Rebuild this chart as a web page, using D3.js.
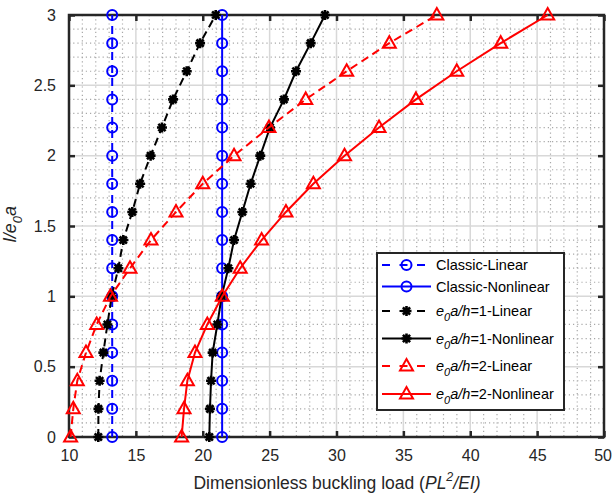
<!DOCTYPE html>
<html><head><meta charset="utf-8">
<script src="https://cdn.jsdelivr.net/npm/d3@7"></script>
<style>body{margin:0;background:#fff;} svg{display:block;font-family:"Liberation Sans",Arial,sans-serif;}</style>
</head><body>
<svg id="chart" width="612" height="495"></svg>
<script>
const yValues = [0,0.2,0.4,0.6,0.8,1.0,1.2,1.4,1.6,1.8,2.0,2.2,2.4,2.6,2.8,3.0];
const classicLinear    = [13.23,13.23,13.23,13.23,13.23,13.23,13.23,13.23,13.23,13.23,13.23,13.23,13.23,13.23,13.23,13.23];
const classicNonlinear = [21.45,21.45,21.45,21.45,21.45,21.45,21.45,21.45,21.45,21.45,21.45,21.45,21.45,21.45,21.45,21.45];
const e1Linear    = [12.19,12.2,12.29,12.57,12.87,13.19,13.69,14.06,14.73,15.31,16.1,16.95,17.78,18.8,19.8,20.97];
const e1Nonlinear = [20.49,20.54,20.62,20.74,21.09,21.41,21.91,22.34,22.96,23.58,24.3,25.03,26.07,26.97,28.07,29.14];
const e2Linear    = [10.12,10.32,10.62,11.27,12.07,13.1,14.56,16.13,18.0,20.0,22.34,24.95,27.7,30.76,33.95,37.5];
const e2Nonlinear = [18.42,18.6,18.85,19.42,20.34,21.46,22.8,24.4,26.22,28.27,30.6,33.18,35.94,38.99,42.28,45.79];
const xTicks = [10,15,20,25,30,35,40,45,50];
const yTicks = [0,0.5,1,1.5,2,2.5,3];
const seriesNames = ["Classic-Linear","Classic-Nonlinear","1-Linear","1-Nonlinear","2-Linear","2-Nonlinear"];

const series = [
  {name:seriesNames[0], x:classicLinear, color:"#0000ff", dash:true, marker:"circle"},
  {name:seriesNames[1], x:classicNonlinear, color:"#0000ff", dash:false, marker:"circle"},
  {name:seriesNames[2], x:e1Linear, color:"#000000", dash:true, marker:"star", e:1},
  {name:seriesNames[3], x:e1Nonlinear, color:"#000000", dash:false, marker:"star", e:1},
  {name:seriesNames[4], x:e2Linear, color:"#ff0000", dash:true, marker:"tri", e:2},
  {name:seriesNames[5], x:e2Nonlinear, color:"#ff0000", dash:false, marker:"tri", e:2}
];

const L=69, R=604, T=15, B=437;
const svg = d3.select("#chart");
const x = d3.scaleLinear().domain([10,50]).range([L,R]);
const y = d3.scaleLinear().domain([0,3]).range([B,T]);

// minor grid
const g = svg.append("g");
const xMinor = d3.range(11,50,1).filter(v=>v%5!==0);
const yMinor = d3.range(1,30,1).map(v=>v/10).filter(v=>Math.abs(v*2-Math.round(v*2))>1e-6);
g.selectAll(".xm").data(xMinor).enter().append("line")
  .attr("x1",d=>x(d)).attr("x2",d=>x(d)).attr("y1",T).attr("y2",B)
  .attr("stroke","#a8a8a8").attr("stroke-width",1.2).attr("stroke-dasharray","1.2,3");
g.selectAll(".ym").data(yMinor).enter().append("line")
  .attr("y1",d=>y(d)).attr("y2",d=>y(d)).attr("x1",L).attr("x2",R)
  .attr("stroke","#a8a8a8").attr("stroke-width",1.2).attr("stroke-dasharray","1.2,3");
// major grid
g.selectAll(".xM").data(xTicks).enter().append("line")
  .attr("x1",d=>x(d)).attr("x2",d=>x(d)).attr("y1",T).attr("y2",B)
  .attr("stroke","#d8d8d8").attr("stroke-width",1.5);
g.selectAll(".yM").data(yTicks).enter().append("line")
  .attr("y1",d=>y(d)).attr("y2",d=>y(d)).attr("x1",L).attr("x2",R)
  .attr("stroke","#d8d8d8").attr("stroke-width",1.5);

// axes
const axCol="#262626";
const xAxis = svg.append("g").attr("transform",`translate(0,${B})`)
  .call(d3.axisBottom(x).tickValues(xTicks).tickSizeInner(-6).tickSizeOuter(0).tickPadding(13));
const yAxis = svg.append("g").attr("transform",`translate(${L},0)`)
  .call(d3.axisLeft(y).tickValues(yTicks).tickSizeInner(-6).tickSizeOuter(0).tickPadding(13).tickFormat(d3.format("")));
const xTop = svg.append("g").attr("transform",`translate(0,${T})`)
  .call(d3.axisTop(x).tickValues(xTicks).tickSizeInner(-6).tickSizeOuter(0).tickFormat(""));
const yRight = svg.append("g").attr("transform",`translate(${R},0)`)
  .call(d3.axisRight(y).tickValues(yTicks).tickSizeInner(-6).tickSizeOuter(0).tickFormat(""));
[xAxis,yAxis,xTop,yRight].forEach(a=>{
  a.select(".domain").remove();
  a.selectAll(".tick line").attr("stroke",axCol).attr("stroke-width",2.5);
  a.selectAll(".tick text").attr("fill",axCol).style("font-size","16px").style("font-family","'Liberation Sans',Arial,sans-serif");
});
// keep the last x tick label inside the canvas
xAxis.selectAll(".tick text").filter(d=>d===50).attr("text-anchor","end").attr("dx",7.5);
svg.append("rect").attr("x",L).attr("y",T).attr("width",R-L).attr("height",B-T)
  .attr("fill","none").attr("stroke",axCol).attr("stroke-width",2.5);

// markers
function drawMarker(sel, type, color){
  if(type==="circle"){
    sel.append("circle").attr("r",5).attr("fill","none").attr("stroke",color).attr("stroke-width",2);
  } else if(type==="tri"){
    sel.append("path").attr("d","M0,-7 L6.5,4.5 L-6.5,4.5 Z").attr("fill","none").attr("stroke",color).attr("stroke-width",2);
  } else {
    sel.append("path").attr("d","M0,-5L0,5M-5,0L5,0M-3.6,-3.6L3.6,3.6M-3.6,3.6L3.6,-3.6")
      .attr("stroke",color).attr("stroke-width",2.6).attr("fill","none");
  }
}
const line = d3.line().x(d=>x(d[0])).y(d=>y(d[1]));
series.forEach(s=>{
  const pts = s.x.map((v,i)=>[v,yValues[i]]);
  svg.append("path").datum(pts).attr("d",line).attr("fill","none")
    .attr("stroke",s.color).attr("stroke-width",2)
    .attr("stroke-dasharray",s.dash?"8,5":null);
  const m = svg.append("g").selectAll("g").data(pts).enter().append("g")
    .attr("transform",d=>`translate(${x(d[0])},${y(d[1])})`);
  drawMarker(m, s.marker, s.color);
});

// legend
const lg = svg.append("g");
lg.append("rect").attr("x",377).attr("y",253).attr("width",187).attr("height",157)
  .attr("fill","#fff").attr("stroke",axCol).attr("stroke-width",2);
const rowY=[265,286.5,311,338.5,366,394];
series.forEach((s,i)=>{
  const yy=rowY[i];
  lg.append("line").attr("x1",382).attr("x2",431).attr("y1",yy).attr("y2",yy)
    .attr("stroke",s.color).attr("stroke-width",2).attr("stroke-dasharray",s.dash?"8,9.5":null);
  drawMarker(lg.append("g").attr("transform",`translate(406.5,${yy})`), s.marker, s.color);
  const t = lg.append("text").attr("x",436).attr("y",yy+5).attr("fill","#000").style("font-size","14.5px");
  if(!s.e){
    t.text(s.name);
  } else {
    t.append("tspan").style("font-style","italic").text("e");
    t.append("tspan").style("font-style","italic").style("font-size","11px").attr("dy",5).text("0");
    t.append("tspan").style("font-style","italic").attr("dy",-5).text("a/h");
    t.append("tspan").text("="+s.name);
  }
});

// axis labels
const xl = svg.append("text").attr("x",337).attr("y",489).attr("text-anchor","middle")
  .attr("fill",axCol).style("font-size","17.5px");
xl.append("tspan").text("Dimensionless buckling load (");
xl.append("tspan").style("font-style","italic").text("PL");
xl.append("tspan").style("font-style","italic").style("font-size","12.5px").attr("dy",-8).text("2");
xl.append("tspan").style("font-style","italic").attr("dy",8).text("/EI)");

const yl = svg.append("text").attr("transform",`translate(16,224) rotate(-90)`)
  .attr("text-anchor","middle").attr("fill",axCol).style("font-size","18px").style("font-style","italic");
yl.append("tspan").text("l/e");
yl.append("tspan").style("font-size","13px").attr("dy",6).text("0");
yl.append("tspan").attr("dy",-6).text("a");
</script>
</body></html>
